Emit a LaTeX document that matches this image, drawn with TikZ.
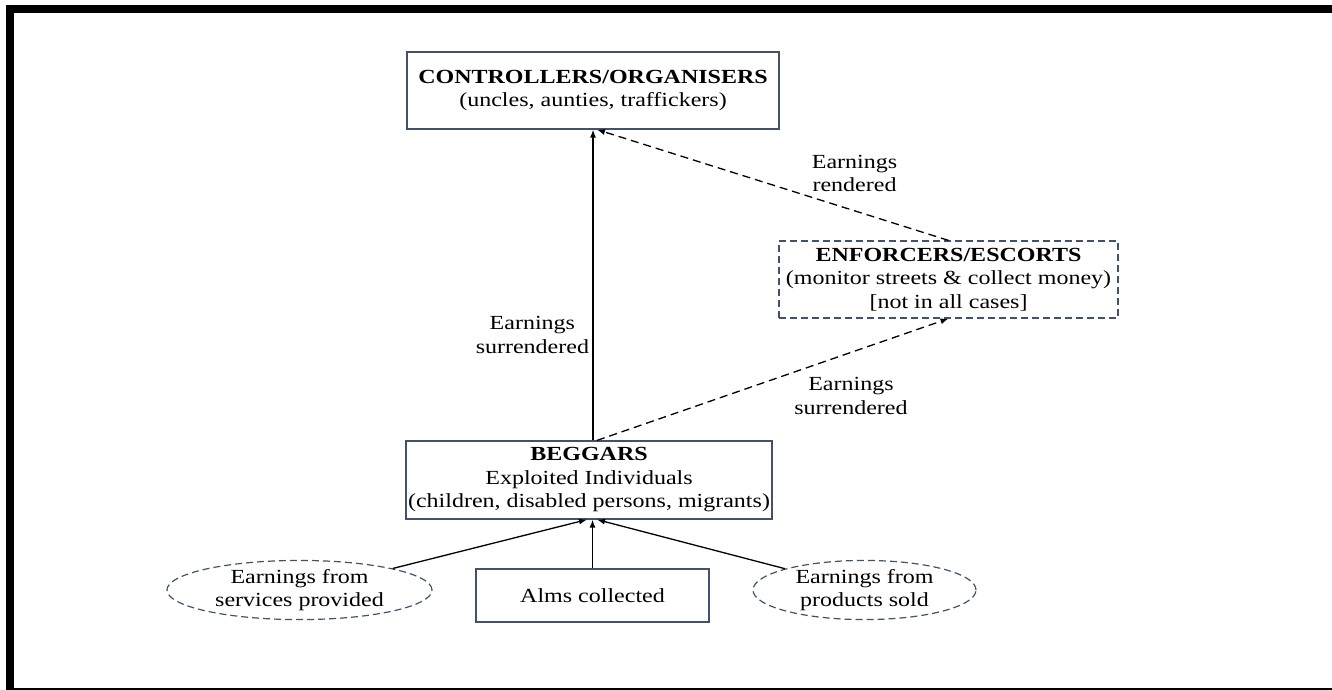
\documentclass[tikz,border=0pt]{standalone}
\usepackage{fontspec}
\setmainfont{Liberation Serif}[FakeStretch=1.2]
\usetikzlibrary{arrows.meta,shapes.geometric}
\definecolor{boxline}{RGB}{66,82,108}
\tikzset{
  every node/.style={font=\fontsize{20}{23.5}\selectfont, align=center},
  plainbox/.style={draw=boxline, line width=1.2pt, inner sep=0pt},
  dashbox/.style={plainbox, dash pattern=on 7pt off 4pt},
  dashoval/.style={dashbox, ellipse, minimum height=58pt},
  flow/.style={-{Latex[length=8pt,width=6pt]}, line width=1.3pt},
  dashflow/.style={flow, dash pattern=on 8pt off 5pt}
}

\begin{document}
\begin{tikzpicture}[x=1pt,y=-1pt]
     \useasboundingbox (0,0) rectangle (1332,689);
     \draw[line width=8pt] (10,9) rectangle (1336,692);
     % boxes
     \node[plainbox, minimum width=372pt, minimum height=77pt] (ctrl) at (593,90.5)
       {\textbf{CONTROLLERS/ORGANISERS}\\(uncles, aunties, traffickers)};
     \node[dashbox, minimum width=339pt, minimum height=77pt] (enf) at (948.5,279.5)
       {\textbf{ENFORCERS/ESCORTS}\\(monitor streets \& collect money)\\{}[not in all cases]};
     \node[plainbox, minimum width=366pt, minimum height=78pt] (beg) at (589,480)
       {\textbf{BEGGARS}\\Exploited Individuals\\(children, disabled persons, migrants)};
     \node[plainbox, minimum width=233pt, minimum height=53pt] (alms) at (592.5,595.5)
       {Alms collected};
     \node[dashoval, minimum width=265pt] (serv) at (299.5,590)
       {Earnings from\\services provided};
     \node[dashoval, minimum width=223pt] (prod) at (864.5,590)
       {Earnings from\\products sold};
     % flows
     \draw[flow] (beg.north -| ctrl.south) -- node[pos=0.34, anchor=east] {Earnings\\surrendered}
       (ctrl.south);
     \draw[dashflow] ([xshift=8pt]beg.north) -- node[pos=0.55, anchor=north west] {Earnings\\surrendered}
       (enf.south);
     \draw[dashflow] (enf.north) -- node[pos=0.4, anchor=south west] {Earnings\\rendered}
       ([xshift=4pt]ctrl.south);
     \draw[flow] (serv.13) -- ([xshift=-2pt]beg.south);
     \draw[flow] (alms.north) -- (alms.north |- beg.south);
     \draw[flow] (prod.165) -- ([xshift=8pt]beg.south);
\end{tikzpicture}
\end{document}
